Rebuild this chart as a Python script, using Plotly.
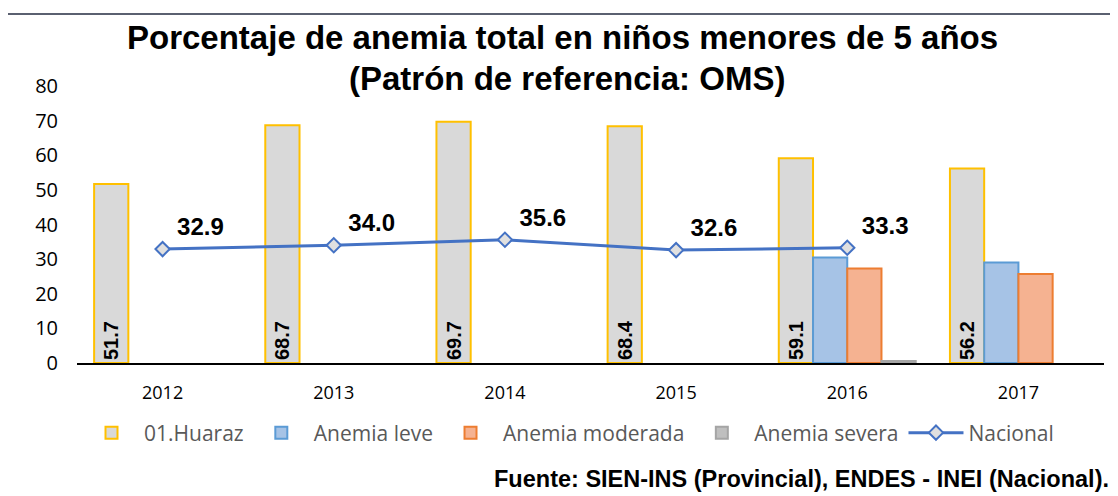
import plotly.graph_objects as go

years = ["2012", "2013", "2014", "2015", "2016", "2017"]
huaraz = [51.7, 68.7, 69.7, 68.4, 59.1, 56.2]
leve = [None, None, None, None, 30.5, 29.0]
moderada = [None, None, None, None, 27.3, 25.7]
severa = [None, None, None, None, 0.6, None]
nacional_years = ["2012", "2013", "2014", "2015", "2016"]
nacional = [32.9, 34.0, 35.6, 32.6, 33.3]
title_lines = ["Porcentaje de anemia total en niños menores de 5 años",
               "(Patrón de referencia: OMS)"]
source_text = "Fuente: SIEN-INS (Provincial), ENDES - INEI (Nacional)."

W, H = 1118, 496
OFF = 8  # page body margin
# plot area in screen pixels: x 77..1104, y 86..363
L = 77 - OFF
T = 86 - OFF
R = W - (1104 - OFF)
B = H - (363 - OFF)
PW, PH = W - L - R, H - T - B


def px(x):
    return (x - OFF - L) / PW


def py(y):
    return (H - B - (y - OFF)) / PH


fig = go.Figure()
fig.add_trace(go.Bar(
    x=years, y=huaraz, name="01.Huaraz",
    marker=dict(color="#d9d9d9", line=dict(color="#ffc000", width=2)),
    text=[f"{v:.1f}" for v in huaraz], textposition="inside",
    insidetextanchor="start", textangle=-90,
    textfont=dict(family="Liberation Sans", size=20, color="black", weight="bold"),
))
fig.add_trace(go.Bar(
    x=years, y=leve, name="Anemia leve",
    marker=dict(color="#a6c3e6", line=dict(color="#5b9bd5", width=2)),
))
fig.add_trace(go.Bar(
    x=years, y=moderada, name="Anemia moderada",
    marker=dict(color="#f5b291", line=dict(color="#ed7d31", width=2)),
))
fig.add_trace(go.Bar(
    x=years, y=severa, name="Anemia severa",
    marker=dict(color="#bfbfbf", line=dict(color="#a5a5a5", width=2)),
))
fig.add_trace(go.Scatter(
    x=nacional_years, y=nacional, name="Nacional", mode="lines+markers+text",
    line=dict(color="#4472c4", width=3),
    marker=dict(symbol="diamond", size=11, color="#e0e0e0",
                line=dict(color="#4472c4", width=2)),
    texttemplate="\u00a0%{y:.1f}", textposition="top right",
    textfont=dict(family="Liberation Sans", size=24, color="black", weight="bold"),
))

fig.update_layout(
    width=W, height=H,
    margin=dict(l=L, r=R, t=T, b=B, autoexpand=False),
    paper_bgcolor="white", plot_bgcolor="white",
    barmode="group", bargap=0.2, bargroupgap=0,
    font=dict(family="Liberation Sans", color="black"),
    xaxis=dict(
        showline=True, linecolor="black", linewidth=2, ticks="",
        tickfont=dict(family="Open Sans", size=18, color="black"),
        ticklabelstandoff=12,
        showgrid=False, automargin=False,
    ),
    yaxis=dict(
        range=[0, 80], dtick=10, showgrid=False, zeroline=False, showline=False,
        tickfont=dict(family="Open Sans", size=20, color="black"),
        ticklabelstandoff=18, automargin=False,
    ),
    legend=dict(
        orientation="h", x=px(569), xanchor="center", y=py(433), yanchor="middle",
        font=dict(family="Open Sans", size=21, color="#595959"),
        itemwidth=55,
    ),
    showlegend=True,
    annotations=[
        dict(text=f"<b>{title_lines[0]}</b>", xref="paper", yref="paper",
             x=px(562), y=py(38), xanchor="center", yanchor="middle", showarrow=False,
             font=dict(family="Liberation Sans", size=33, color="black")),
        dict(text=f"<b>{title_lines[1]}</b>", xref="paper", yref="paper",
             x=px(567), y=py(78), xanchor="center", yanchor="middle", showarrow=False,
             font=dict(family="Liberation Sans", size=33, color="black")),
        dict(text=f"<b>{source_text}</b>", xref="paper", yref="paper",
             x=px(1111), y=py(479), xanchor="right", yanchor="middle", showarrow=False,
             font=dict(family="Liberation Sans", size=23.5, color="black")),
    ],
    shapes=[dict(
        type="rect", xref="paper", yref="paper",
        x0=px(7), x1=px(1140), y0=py(520), y1=py(14),
        line=dict(color="#5a6070", width=2), fillcolor="rgba(0,0,0,0)", layer="below",
    )],
)

fig.write_html("out.html")
